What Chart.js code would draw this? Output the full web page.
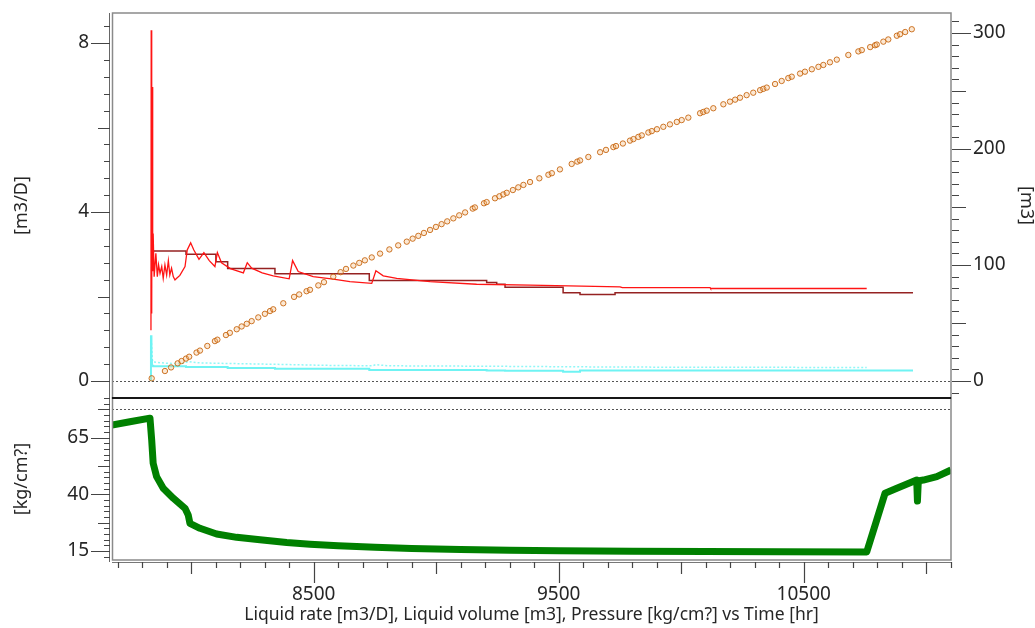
<!DOCTYPE html>
<html>
<head>
<meta charset="utf-8">
<script src="https://cdn.jsdelivr.net/npm/chart.js@4"></script>
<style>
  html, body { margin: 0; padding: 0; background: #fff; }
  #wrap { position: relative; width: 1035px; height: 628px; overflow: hidden; }
  canvas { position: absolute; left: 0; }
  #rateChart { top: 0; }
  #presChart { top: 390px; }
</style>
</head>
<body>
<div id="wrap">
  <canvas id="rateChart" width="1035" height="400"></canvas>
  <canvas id="presChart" width="1035" height="238"></canvas>
</div>
<script>
// ---- data (time in hr) ----
const liquidRateT = [7836, 7837, 7839, 7841, 7843, 7845, 7849, 7856, 7862, 7867, 7873, 7880, 7886, 7893, 7900, 7907, 7913, 7920, 7927, 7934,
  7941, 7954, 7975, 7984, 7998, 8011, 8032, 8052, 8074, 8097, 8107, 8124, 8160, 8213, 8229, 8247, 8290, 8335, 8400, 8414,
  8437, 8498, 8580, 8648, 8737, 8754, 8784, 8839, 8975, 9165, 9383, 9750, 9760, 10118, 10120, 10757];
const liquidRate = [1.2, 8.3, 1.6, 6.96, 2.6, 3.49, 2.47, 3.02, 2.47, 2.75, 2.55, 2.71, 2.43, 2.75, 2.51, 2.85, 2.51, 2.67, 2.47, 2.39,
  2.43, 2.5, 2.71, 3.1, 3.27, 3.1, 2.88, 3.04, 2.85, 2.71, 3.04, 2.8, 2.66, 2.56, 2.8, 2.67, 2.56, 2.49, 2.42, 2.85,
  2.59, 2.47, 2.41, 2.35, 2.31, 2.61, 2.49, 2.43, 2.35, 2.29, 2.27, 2.23, 2.21, 2.21, 2.19, 2.19];

const stepRateT = [7845, 7979, 8101, 8149, 8342, 8727, 9206, 9247, 9281, 9518, 9587, 9730, 10783, 10946];
const stepRate = [3.2, 3.08, 3.0, 2.82, 2.66, 2.54, 2.38, 2.33, 2.29, 2.22, 2.09, 2.05, 2.09, 2.09];

const cyanStepT = [7836, 7838, 7840, 7845, 7979, 8149, 8342, 8727, 9206, 9281, 9518, 9587, 10783, 10946];
const cyanStep = [0.0, 1.06, 0.5, 0.36, 0.35, 0.33, 0.31, 0.29, 0.26, 0.25, 0.24, 0.22, 0.25, 0.25];

const cyanDotT = [7838, 7842, 7845, 7900, 7960, 7990, 8030, 8100, 8300, 8560, 8740, 8754, 8800, 9200, 9750, 10757];
const cyanDot = [0.9, 0.5, 0.45, 0.42, 0.41, 0.46, 0.43, 0.42, 0.40, 0.37, 0.36, 0.39, 0.36, 0.35, 0.33, 0.32];

const volumeT = [7839, 7893, 7918, 7945, 7961, 7979, 7992, 8022, 8036, 8066, 8097, 8107, 8142, 8158, 8186, 8206, 8227, 8247, 8274, 8301,
  8322, 8335, 8376, 8420, 8441, 8471, 8485, 8519, 8542, 8580, 8610, 8632,
  8662, 8686, 8709, 8737, 8771, 8809, 8845, 8880, 8904, 8927, 8950, 8975, 8999, 9022, 9045, 9070, 9094, 9118, 9149, 9158,
  9195, 9206, 9240, 9258, 9274, 9288, 9313, 9335, 9356, 9383, 9421, 9458, 9472, 9505, 9553, 9576, 9587, 9621, 9669, 9693,
  9723, 9734, 9762, 9791, 9805, 9825,
  9839, 9866, 9880, 9901, 9927, 9954, 9982, 10002, 10029, 10077, 10090, 10104, 10131, 10172, 10199, 10220, 10240, 10267,
  10294, 10322, 10335, 10349, 10383, 10410, 10437, 10451, 10485, 10505, 10533, 10560, 10580, 10607, 10635, 10682, 10723,
  10737, 10771, 10791, 10798, 10825, 10845, 10880, 10893, 10914, 10941];
const volume = [2.3, 8.6, 11.7, 15.2, 17.2, 19.3, 20.9, 24.5, 26.2, 30.2, 34.4, 35.6, 39.6, 41.5, 44.6, 47.0, 49.3, 51.6, 54.8, 57.9,
  60.3, 61.8, 67, 72.5, 74.6, 77.4, 78.6, 82.4, 85.2, 89.9, 93.8, 96.6,
  99.5, 101.8, 104, 106.5, 109.8, 113.4, 116.9, 120.1, 122.7, 125.1, 127.6, 130.2, 132.8, 135.2, 137.6, 140.2, 142.8, 145.3, 148.6, 149.6,
  153.2, 154.2, 157.5, 159.2, 160.8, 162.2, 164.6, 166.9, 169, 171.5, 174.7, 177.8, 179.1, 182.4, 187.1, 189.1, 190.1, 193.1, 197.2, 199.2,
  201.6, 202.5, 204.7, 207.2, 208.5, 210.4,
  211.7, 214.2, 215.4, 217, 219.1, 221.2, 223.3, 224.9, 227, 230.8, 231.9, 233, 235.1, 238.5, 240.8, 242.5, 244.2, 246.4,
  248.5, 250.7, 251.8, 252.9, 256, 258.6, 261.1, 262.3, 265, 266.6, 268.7, 270.8, 272.4, 274.7, 277, 281, 284.1,
  285.2, 287.8, 289.4, 290, 292.5, 294.4, 297.6, 298.9, 300.8, 303.2];

const pressureT = [7677, 7750, 7832, 7839, 7845, 7859, 7886, 7927, 7975, 7988, 7995, 8036, 8104, 8186, 8281, 8390, 8485, 8600, 8750,
  8900, 9100, 9300, 9500, 9800, 10100, 10400, 10757, 10798, 10832, 10880, 10961, 10964, 10967, 10971, 10988, 11043, 11101];
const pressure = [70.6, 72.0, 73.6, 64.0, 53.7, 47.8, 42.7, 38.3, 33.8, 30.9, 27.2, 25.0, 22.5, 21.0, 19.9, 18.7, 18.0, 17.3, 16.6,
  16.1, 15.6, 15.3, 15.1, 14.9, 14.7, 14.6, 14.5, 28.7, 40.5, 42.7, 46.3, 37.0, 44.5, 46.0, 46.3, 47.8, 50.7];

// tick labels
const rateTicks = [0, 4, 8];
const volumeTicks = [0, 100, 200, 300];
const pressureTicks = [15, 40, 65];
const timeTicks = [8500, 9500, 10500];

const T_MIN = 7677, T_MAX = 11101;

Chart.defaults.font.family = "'Noto Sans', 'Open Sans', sans-serif";
Chart.defaults.color = '#262626';

function pts(ts, vs) {
  return ts.map((t, i) => ({ x: t, y: vs[i] }));
}

function useTicks(list) {
  return s => { s.ticks = list.map(v => ({ value: v })); };
}

// fixed axis box, no extra label padding pushed into the layout
function fixSize(dim, size) {
  return s => {
    s[dim] = size;
    s.paddingTop = 0; s.paddingBottom = 0;
    s.paddingLeft = 0; s.paddingRight = 0;
  };
}

// minor / medium / major tick marks drawn off the scale
function tickMarks(ctx, scale, step, base, lens, vertical, at, dir) {
  const lo = Math.ceil((scale.min - base) / step - 1e-9);
  const hi = Math.floor((scale.max - base) / step + 1e-9);
  ctx.beginPath();
  for (let n = lo; n <= hi; n++) {
    const len = n % 10 === 0 ? lens[2] : (n % 5 === 0 ? lens[1] : lens[0]);
    const p = Math.round(scale.getPixelForValue(base + n * step)) + 0.5;
    if (vertical) { ctx.moveTo(at, p); ctx.lineTo(at + dir * len, p); }
    else { ctx.moveTo(p, at); ctx.lineTo(p, at + len); }
  }
  ctx.stroke();
}

const decor = {
  id: 'decor',
  afterDatasetsDraw(chart, args, opts) {
    const { ctx, chartArea: a, scales } = chart;
    ctx.save();
    // dotted reference line
    const ry = Math.round(scales.y.getPixelForValue(opts.ref)) + 0.5;
    ctx.strokeStyle = '#555';
    ctx.lineWidth = 1;
    ctx.setLineDash([2, 2]);
    ctx.beginPath(); ctx.moveTo(a.left, ry); ctx.lineTo(a.right, ry); ctx.stroke();
    ctx.setLineDash([]);
    // plot frame
    ctx.strokeStyle = '#8a8a8a';
    ctx.lineWidth = 1.5;
    ctx.strokeRect(a.left + 0.5, a.top, a.right - a.left - 0.5, a.bottom - a.top);
    // left axis line
    ctx.strokeStyle = '#666';
    ctx.lineWidth = 1;
    ctx.beginPath(); ctx.moveTo(109.5, a.top); ctx.lineTo(109.5, a.bottom + (opts.top ? 0 : 2)); ctx.stroke();
    ctx.strokeStyle = '#444';
    ctx.lineWidth = 1.2;
    tickMarks(ctx, scales.y, opts.yStep, opts.yBase, [6, 12, 19], true, 110, -1);
    if (opts.top) {
      tickMarks(ctx, scales.y2, 10, 0, [7, 14, 19], true, 952, 1);
    } else {
      ctx.strokeStyle = '#777';
      ctx.lineWidth = 1;
      ctx.beginPath(); ctx.moveTo(a.left, a.bottom + 2.5); ctx.lineTo(a.right, a.bottom + 2.5); ctx.stroke();
      ctx.strokeStyle = '#444';
      ctx.lineWidth = 1.2;
      tickMarks(ctx, scales.x, 100, 8500, [6, 12, 21], false, a.bottom + 2, 1);
      // solid divider between the two panels
      ctx.fillStyle = '#161616';
      ctx.fillRect(a.left, a.top - 1, a.right - a.left, 2);
    }
    ctx.restore();
  }
};

const tickFont = { size: 19 };
const titleFont = { size: 18 };

new Chart(document.getElementById('rateChart'), {
  type: 'line',
  data: {
    datasets: [
      {
        label: 'Liquid volume',
        data: pts(volumeT, volume),
        yAxisID: 'y2',
        showLine: false,
        pointRadius: 2.7,
        pointBorderWidth: 1,
        pointBorderColor: 'rgba(196,96,8,0.85)',
        pointBackgroundColor: 'rgba(245,190,130,0.35)',
        order: 0
      },
      {
        label: 'Liquid rate',
        data: pts(liquidRateT, liquidRate),
        yAxisID: 'y',
        borderColor: '#ff1414',
        borderWidth: 1.3,
        pointRadius: 0,
        order: 1
      },
      {
        label: 'Liquid rate (step)',
        data: pts(stepRateT, stepRate),
        yAxisID: 'y',
        stepped: 'after',
        borderColor: '#952222',
        borderWidth: 1.5,
        pointRadius: 0,
        order: 2
      },
      {
        label: 'Cyan step',
        data: pts(cyanStepT, cyanStep),
        yAxisID: 'y',
        stepped: 'after',
        borderColor: '#6ff3f3',
        borderWidth: 2,
        pointRadius: 0,
        order: 3
      },
      {
        label: 'Cyan dotted',
        data: pts(cyanDotT, cyanDot),
        yAxisID: 'y',
        borderColor: '#8ff7f7',
        borderWidth: 1.5,
        borderDash: [2, 2],
        pointRadius: 0,
        order: 4
      }
    ]
  },
  options: {
    responsive: false,
    animation: false,
    layout: { padding: { top: 13, bottom: 2, left: 0, right: 0 }, autoPadding: false },
    plugins: {
      legend: { display: false },
      tooltip: { enabled: false },
      decor: { ref: 0, yStep: 0.4, yBase: 0, top: true }
    },
    scales: {
      x: { type: 'linear', min: T_MIN, max: T_MAX, display: false },
      y: {
        position: 'left',
        min: -0.402, max: 8.71,
        afterBuildTicks: useTicks(rateTicks),
        afterFit: fixSize('width', 112),
        grid: { display: false, drawTicks: false },
        border: { display: false },
        ticks: { font: tickFont, padding: 23, callback: v => String(v) },
        title: { display: true, text: '[m3/D]', font: titleFont, padding: { top: 11, bottom: 0 } }
      },
      y2: {
        position: 'right',
        min: -14.66, max: 317.2,
        afterBuildTicks: useTicks(volumeTicks),
        afterFit: fixSize('width', 84),
        grid: { display: false, drawTicks: false },
        border: { display: false },
        ticks: { font: tickFont, padding: 22, callback: v => String(v) },
        title: { display: true, text: '[m3]', font: { size: 18, lineHeight: 1 }, padding: { top: 0, bottom: 0 } }
      }
    }
  },
  plugins: [decor]
});

new Chart(document.getElementById('presChart'), {
  type: 'line',
  data: {
    datasets: [
      {
        label: 'Pressure',
        data: pts(pressureT, pressure),
        borderColor: '#008000',
        borderWidth: 7,
        borderJoinStyle: 'round',
        pointRadius: 0
      }
    ]
  },
  options: {
    responsive: false,
    animation: false,
    layout: { padding: { top: 8, bottom: 0, left: 0, right: 84 }, autoPadding: false },
    plugins: {
      legend: { display: false },
      tooltip: { enabled: false },
      decor: { ref: 77.5, yStep: 2.5, yBase: 15, top: false }
    },
    scales: {
      x: {
        type: 'linear', min: T_MIN, max: T_MAX,
        afterBuildTicks: useTicks(timeTicks),
        afterFit: fixSize('height', 68),
        grid: { display: false, drawTicks: false },
        border: { display: false },
        ticks: { font: tickFont, padding: 23, maxRotation: 0, autoSkip: false, callback: v => String(v) },
        title: {
          display: true,
          text: 'Liquid rate [m3/D], Liquid volume [m3], Pressure [kg/cm?] vs Time [hr]',
          font: { size: 17.5 },
          padding: { top: 0, bottom: 2 }
        }
      },
      y: {
        position: 'left',
        min: 11, max: 82.5,
        afterBuildTicks: useTicks(pressureTicks),
        afterFit: fixSize('width', 112),
        grid: { display: false, drawTicks: false },
        border: { display: false },
        ticks: { font: tickFont, padding: 23, callback: v => String(v) },
        title: { display: true, text: '[kg/cm?]', font: titleFont, padding: { top: 11, bottom: 0 } }
      }
    }
  },
  plugins: [decor]
});
</script>
</body>
</html>
